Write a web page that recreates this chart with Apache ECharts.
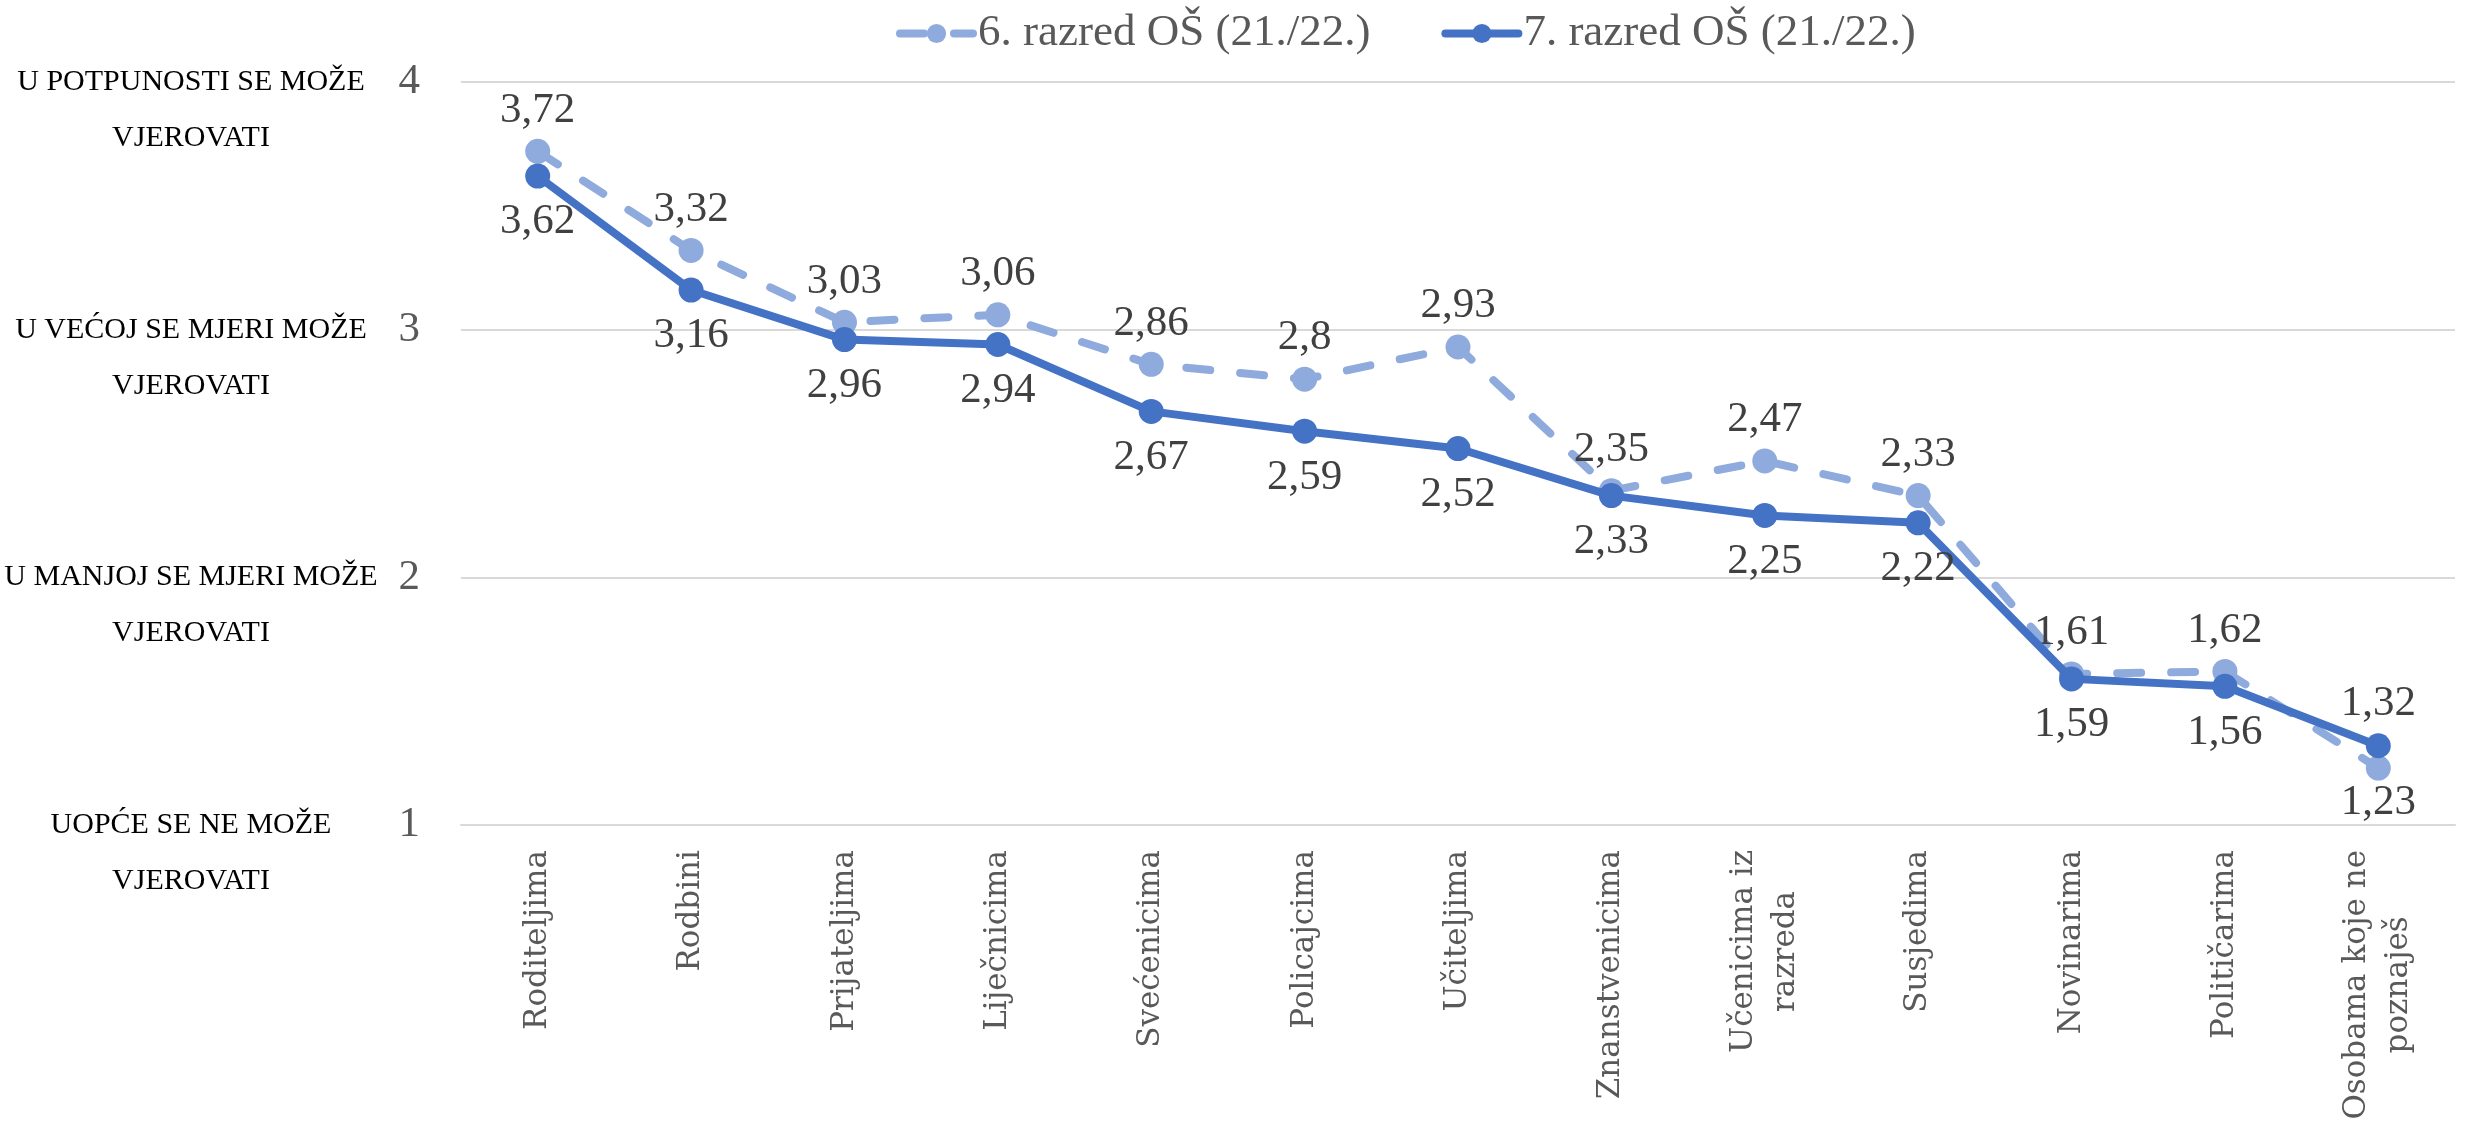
<!DOCTYPE html>
<html>
<head>
<meta charset="utf-8">
<script src="https://cdn.jsdelivr.net/npm/echarts@6/dist/echarts.min.js"></script>
<style>
html,body{margin:0;padding:0;background:#fff;}
#chart{width:2471px;height:1122px;}
</style>
</head>
<body>
<div id="chart"></div>
<script>
const categories = ['Roditeljima','Rodbini','Prijateljima','Liječnicima','Svećenicima','Policajcima','Učiteljima','Znanstvenicima','Učenicima iz\nrazreda','Susjedima','Novinarima','Političarima','Osobama koje ne\npoznaješ'];
const seriesNames = ['6. razred OŠ (21./22.)','7. razred OŠ (21./22.)'];
const grade6 = [3.72,3.32,3.03,3.06,2.86,2.8,2.93,2.35,2.47,2.33,1.61,1.62,1.23];
const grade7 = [3.62,3.16,2.96,2.94,2.67,2.59,2.52,2.33,2.25,2.22,1.59,1.56,1.32];
const yTicks = [1,2,3,4];
const yDescriptions = ['UOPĆE SE NE MOŽE\nVJEROVATI','U MANJOJ SE MJERI MOŽE\nVJEROVATI','U VEĆOJ SE MJERI MOŽE\nVJEROVATI','U POTPUNOSTI SE MOŽE\nVJEROVATI'];

const SERIF = 'Liberation Serif';
const fmt = v => String(v).replace('.', ',');

function items(arr, defPos, defDist, lastPos, lastDist){
  return arr.map((v,i)=> i===arr.length-1
    ? {value:v, label:{position:lastPos, distance:lastDist}}
    : {value:v, label:{position:defPos, distance:defDist}});
}

const chart = echarts.init(document.getElementById('chart'));
chart.setOption({
  animation:false,
  backgroundColor:'#ffffff',
  legend:{
    left:891, top:6,
    itemWidth:73, itemHeight:24, itemGap:71,
    lineStyle:{width:8},
    textStyle:{fontFamily:SERIF, fontSize:45, color:'#595959'},
    data:seriesNames
  },
  grid:{left:461, right:16, top:82, bottom:297, outerBoundsMode:'none', containLabel:false},
  xAxis:{
    type:'category', data:categories, boundaryGap:true,
    axisLine:{lineStyle:{color:'#d9d9d9', width:2}},
    axisTick:{show:false},
    axisLabel:{
      interval:0, rotate:90, margin:25,
      formatter: v => v.split('\n').map(s=>'{c|'+s+'}').join('\n'),
      rich:{c:{fontFamily:'DejaVu Serif', fontSize:31, color:'#595959', align:'center', lineHeight:42}}
    }
  },
  yAxis:[{
    type:'value', min:1, max:4, interval:1,
    axisLine:{show:false}, axisTick:{show:false},
    splitLine:{lineStyle:{color:'#d9d9d9', width:2}},
    axisLabel:{fontFamily:SERIF, fontSize:43, color:'#595959', margin:41}
  },{
    type:'value', min:1, max:4, interval:1, position:'left',
    axisLine:{show:false}, axisTick:{show:false}, splitLine:{show:false},
    axisLabel:{
      margin:270, align:'center', verticalAlign:'middle',
      fontFamily:SERIF, fontSize:30, color:'#000000', lineHeight:56,
      formatter: v => '\n' + (yDescriptions[yTicks.indexOf(v)] || '')
    }
  }],
  series:[{
    name:seriesNames[0], type:'line', yAxisIndex:0,
    data:items(grade6,'top',7,'bottom',1),
    symbol:'circle', symbolSize:25,
    itemStyle:{color:'#8faadc'},
    lineStyle:{color:'#8faadc', width:8, type:[24,30], cap:'round'},
    label:{show:true, formatter:p=>fmt(p.value), fontFamily:SERIF, fontSize:43, color:'#404040'},
    z:2
  },{
    name:seriesNames[1], type:'line', yAxisIndex:0,
    data:items(grade7,'bottom',12,'top',8),
    symbol:'circle', symbolSize:25,
    itemStyle:{color:'#4472c4'},
    lineStyle:{color:'#4472c4', width:8, cap:'round'},
    label:{show:true, formatter:p=>fmt(p.value), fontFamily:SERIF, fontSize:43, color:'#404040'},
    z:3
  }]
});
</script>
</body>
</html>
